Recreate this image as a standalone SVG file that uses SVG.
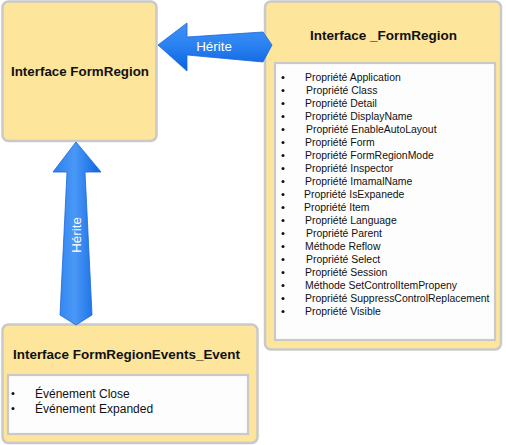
<svg xmlns="http://www.w3.org/2000/svg" width="506" height="445" viewBox="0 0 506 445">
<style>
.box{fill:#fde59b;stroke:#c9c9c9;stroke-width:2.5}
.inner{fill:#fdfdfd;stroke:#c9c9c9;stroke-width:2.2}
.title{font-family:"Liberation Sans",Arial,sans-serif;font-weight:bold;font-size:13.4px;fill:#111;text-anchor:middle}
.item{font-family:"Liberation Sans",Arial,sans-serif;font-size:10.45px;fill:#111}
.ev{font-family:"Liberation Sans",Arial,sans-serif;font-size:12px;fill:#111}
.lbl{font-family:"Liberation Sans",Arial,sans-serif;font-size:13.4px;fill:#fff;text-anchor:middle}
.arrow{stroke:#1a66d8;stroke-width:0.8}
</style>
<defs>
<linearGradient id="gh" x1="0" y1="0" x2="0" y2="1">
<stop offset="0" stop-color="#3f92f6"/>
<stop offset="0.45" stop-color="#2b82f0"/>
<stop offset="1" stop-color="#0a62e0"/>
</linearGradient>
<linearGradient id="gv" x1="0" y1="0" x2="1" y2="0">
<stop offset="0" stop-color="#2a80f0"/>
<stop offset="0.45" stop-color="#4a98f6"/>
<stop offset="1" stop-color="#0c64e2"/>
</linearGradient>
</defs>
<g id="node-formregion">
<rect class="box" x="2.5" y="1.5" width="154" height="139.5" rx="6"/>
<text class="title" x="80" y="76" textLength="138" lengthAdjust="spacingAndGlyphs">Interface FormRegion</text>
</g>
<g id="node-_formregion">
<rect class="box" x="265" y="1.5" width="236" height="348" rx="6"/>
<text class="title" x="383.5" y="39.5" textLength="147" lengthAdjust="spacingAndGlyphs">Interface _FormRegion</text>
<rect class="inner" x="275" y="63" width="220" height="277"/>
<g class="item">
<text x="305" y="81">Propriété Application</text>
<text x="306" y="94">Propriété Class</text>
<text x="305" y="107">Propriété Detail</text>
<text x="305" y="120">Propriété DisplayName</text>
<text x="306" y="133">Propriété EnableAutoLayout</text>
<text x="305" y="146">Propriété Form</text>
<text x="305" y="159">Propriété FormRegionMode</text>
<text x="305" y="172">Propriété Inspector</text>
<text x="305" y="185">Propriété ImamalName</text>
<text x="304" y="198">Propriété IsExpanede</text>
<text x="304" y="211">Propriété Item</text>
<text x="305" y="224">Propriété Language</text>
<text x="306" y="237">Propriété Parent</text>
<text x="305" y="250">Méthode Reflow</text>
<text x="306" y="263">Propriété Select</text>
<text x="305" y="276">Propriété Session</text>
<text x="305" y="289">Méthode SetControlItemPropeny</text>
<text x="305" y="302">Propriété SuppressControlReplacement</text>
<text x="305" y="315">Propriété Visible</text>
</g>
<g fill="#111">
<circle cx="283" cy="77.5" r="1.5"/><circle cx="283" cy="90.5" r="1.5"/><circle cx="283" cy="103.5" r="1.5"/><circle cx="283" cy="116.5" r="1.5"/><circle cx="283" cy="129.5" r="1.5"/><circle cx="283" cy="142.5" r="1.5"/><circle cx="283" cy="155.5" r="1.5"/><circle cx="283" cy="168.5" r="1.5"/><circle cx="283" cy="181.5" r="1.5"/><circle cx="283" cy="194.5" r="1.5"/><circle cx="283" cy="207.5" r="1.5"/><circle cx="283" cy="220.5" r="1.5"/><circle cx="283" cy="233.5" r="1.5"/><circle cx="283" cy="246.5" r="1.5"/><circle cx="283" cy="259.5" r="1.5"/><circle cx="283" cy="272.5" r="1.5"/><circle cx="283" cy="285.5" r="1.5"/><circle cx="283" cy="298.5" r="1.5"/><circle cx="283" cy="311.5" r="1.5"/>
</g>
</g>
<g id="node-events">
<rect class="box" x="2.5" y="324.5" width="255" height="118.5" rx="6"/>
<text class="title" x="126.5" y="359" textLength="227" lengthAdjust="spacingAndGlyphs">Interface FormRegionEvents_Event</text>
<rect class="inner" x="8" y="375" width="240" height="59"/>
<g class="ev">
<text x="35" y="397.5">Événement Close</text>
<text x="35" y="412.5">Événement Expanded</text>
</g>
<g fill="#111">
<circle cx="13" cy="393.5" r="1.5"/><circle cx="13" cy="408.5" r="1.5"/>
</g>
</g>
<g id="connectors">
<g id="edge-horizontal">
<path class="arrow" fill="url(#gh)" d="M158,45 L187,23 L187,37 L263,32 L272,45 L263,62 L187,55 L187,71 Z"/>
<text class="lbl" x="214" y="51">Hérite</text>
</g>
<g id="edge-vertical">
<path class="arrow" fill="url(#gv)" d="M76,142 L101,172 L85,172 L92,315 L76,325 L60,315 L67,172 L53,172 Z"/>
<text class="lbl" transform="translate(81,235) rotate(-90)" x="0" y="0">Hérite</text>
</g>
</g>
</svg>
